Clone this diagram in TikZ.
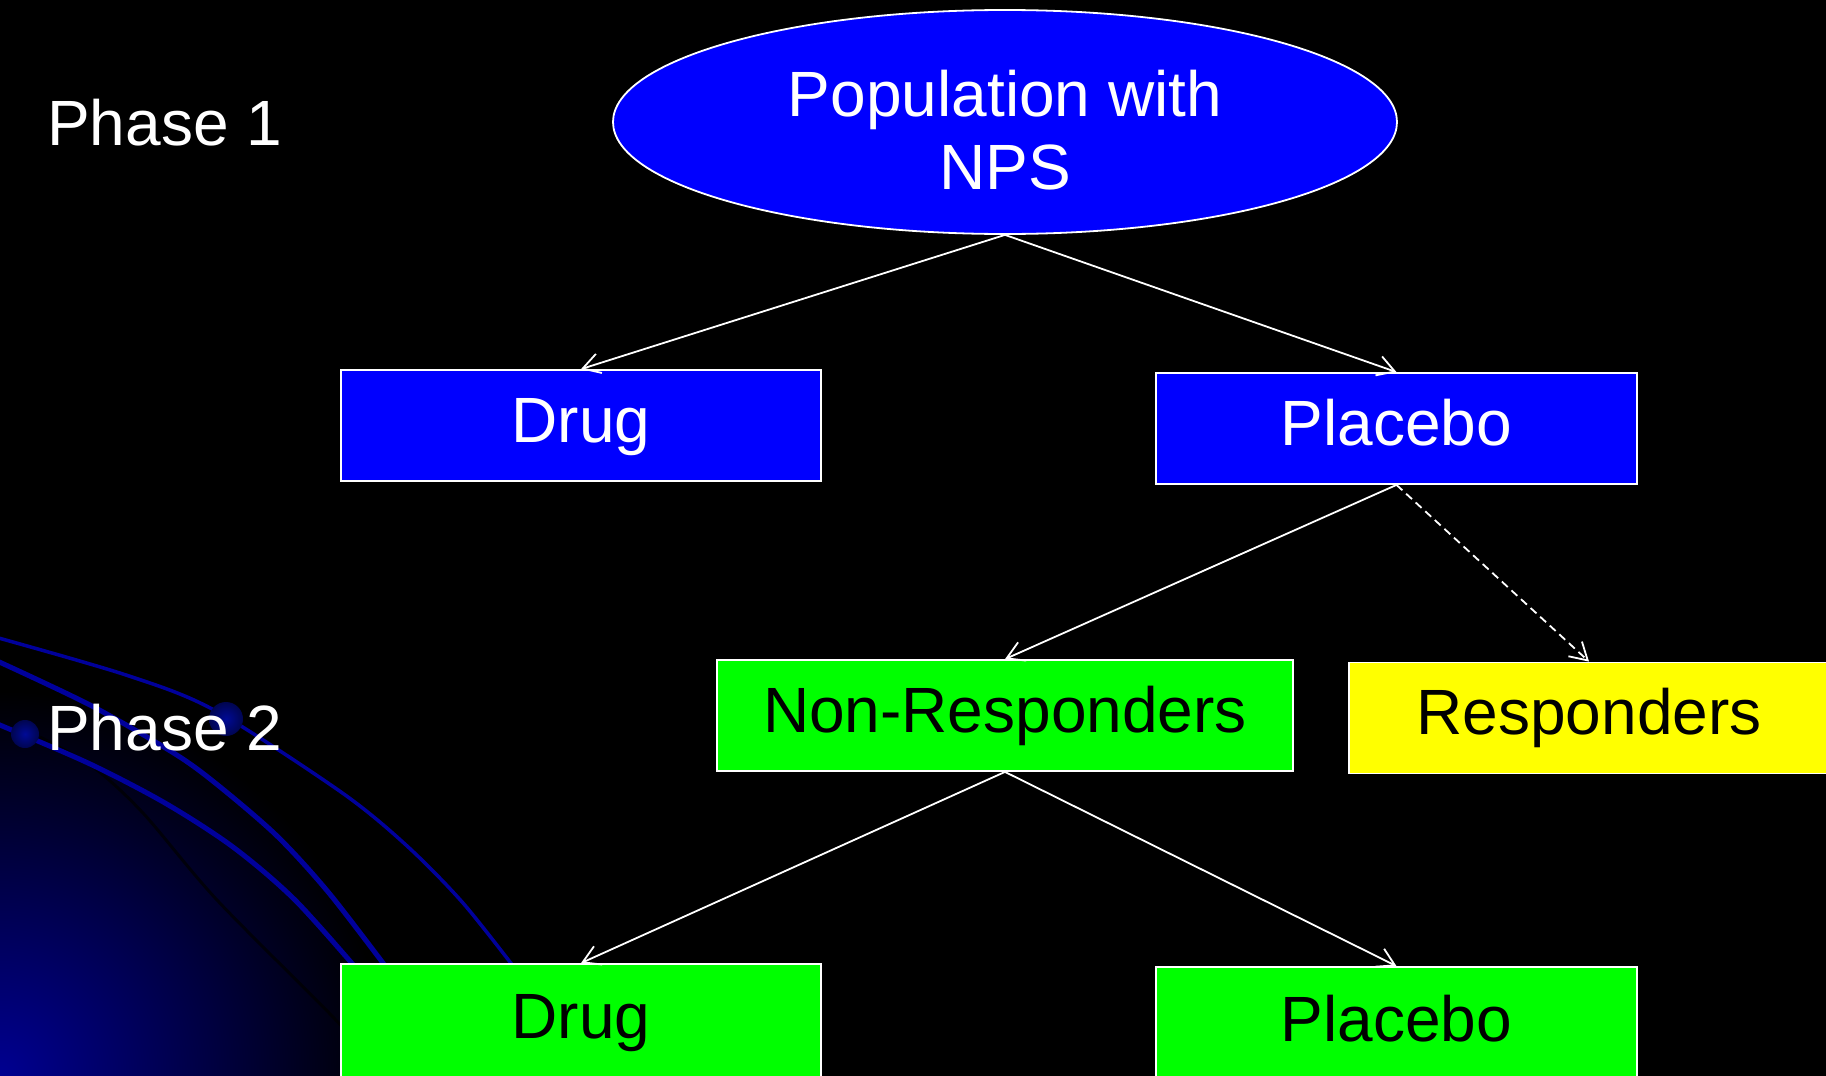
\documentclass[tikz,border=0pt]{standalone}
\usepackage{fontspec}
\setmainfont{Liberation Sans}
\usetikzlibrary{shapes.geometric,arrows.meta}
\definecolor{boxblue}{RGB}{0,0,255}
\definecolor{boxgreen}{RGB}{0,255,0}
\definecolor{boxyellow}{RGB}{255,255,0}
\definecolor{deco}{RGB}{0,0,155}
\definecolor{glow}{RGB}{0,0,145}
\definecolor{dotin}{RGB}{0,10,150}
\definecolor{dotout}{RGB}{0,5,80}
\begin{document}
\begin{tikzpicture}[x=1pt,y=-1pt,
  every node/.style={font=\fontsize{64}{73}\selectfont},
  stage/.style={draw=white, line width=1.8pt, rectangle, minimum width=480pt,
    minimum height=111pt, inner sep=0pt, text height=46pt, text depth=13pt},
  bluebox/.style={stage, fill=boxblue, text=white},
  greenbox/.style={stage, fill=boxgreen, text=black},
  yellowbox/.style={stage, fill=boxyellow, text=black},
  phase/.style={text=white, anchor=base west, inner sep=0pt},
  conn/.style={draw=white, line width=1.8pt, -{Straight Barb[length=17pt,width=20pt]}},
  decoline/.style={draw=deco, line cap=round}
]
\fill[black] (0,0) rectangle (1826,1076);
\useasboundingbox (0,0) rectangle (1826,1076);

% background decoration
\shade[inner color=glow, outer color=black] (0,1076) circle (385pt);
\draw[black, line width=3pt, opacity=0.7] plot[smooth] coordinates {(40,737) (93,767) (143,813) (217,900) (333,1017) (370,1060)};
\draw[decoline, line width=3.5pt] plot[smooth] coordinates {(-5,637) (126,675) (214,710) (341,792) (406,845) (463,903) (520,975)};
\draw[decoline, line width=5pt] plot[smooth] coordinates {(-5,660) (90,705) (172,752) (214,782) (276,835) (329,893) (392,975)};
\draw[decoline, line width=5pt] plot[smooth] coordinates {(-5,723) (88,763) (165,803) (233,847) (295,900) (362,975)};
\shade[inner color=dotin, outer color=dotout] (25,734) circle (14pt);
\shade[inner color=dotin, outer color=dotout] (226,719) circle (17pt);

% labels
\node[phase] (ph1) at (47,145) {Phase 1};
\node[phase] (ph2) at (47,750) {Phase 2};

% nodes
\node[ellipse, draw=white, line width=1.8pt, fill=boxblue, text=white,
  minimum width=784pt, minimum height=224pt, inner sep=0pt, align=center]
  (pop) at (1005,122) {\rule{0pt}{62pt}Population with\\NPS};
\node[bluebox] (drug1) at (581,425.5) {Drug};
\node[bluebox, minimum width=481pt] (plac1) at (1396.5,428.5) {Placebo};
\node[greenbox, minimum width=576pt] (nonresp) at (1005,715.5) {Non-Responders};
\node[yellowbox] (resp) at (1589,718) {Responders};
\node[greenbox, minimum height=116pt] (drug2) at (581,1022) {Drug};
\node[greenbox, minimum width=481pt, minimum height=116pt] (plac2) at (1396.5,1025) {Placebo};

% connectors
\draw[conn] (pop.south) -- (drug1.north);
\draw[conn] (pop.south) -- (plac1.north);
\draw[conn] (plac1.south) -- (nonresp.north);
\draw[conn, dash pattern=on 8pt off 5pt] (plac1.south) -- (resp.north);
\draw[conn] (nonresp.south) -- (drug2.north);
\draw[conn] (nonresp.south) -- (plac2.north);
\end{tikzpicture}
\end{document}
